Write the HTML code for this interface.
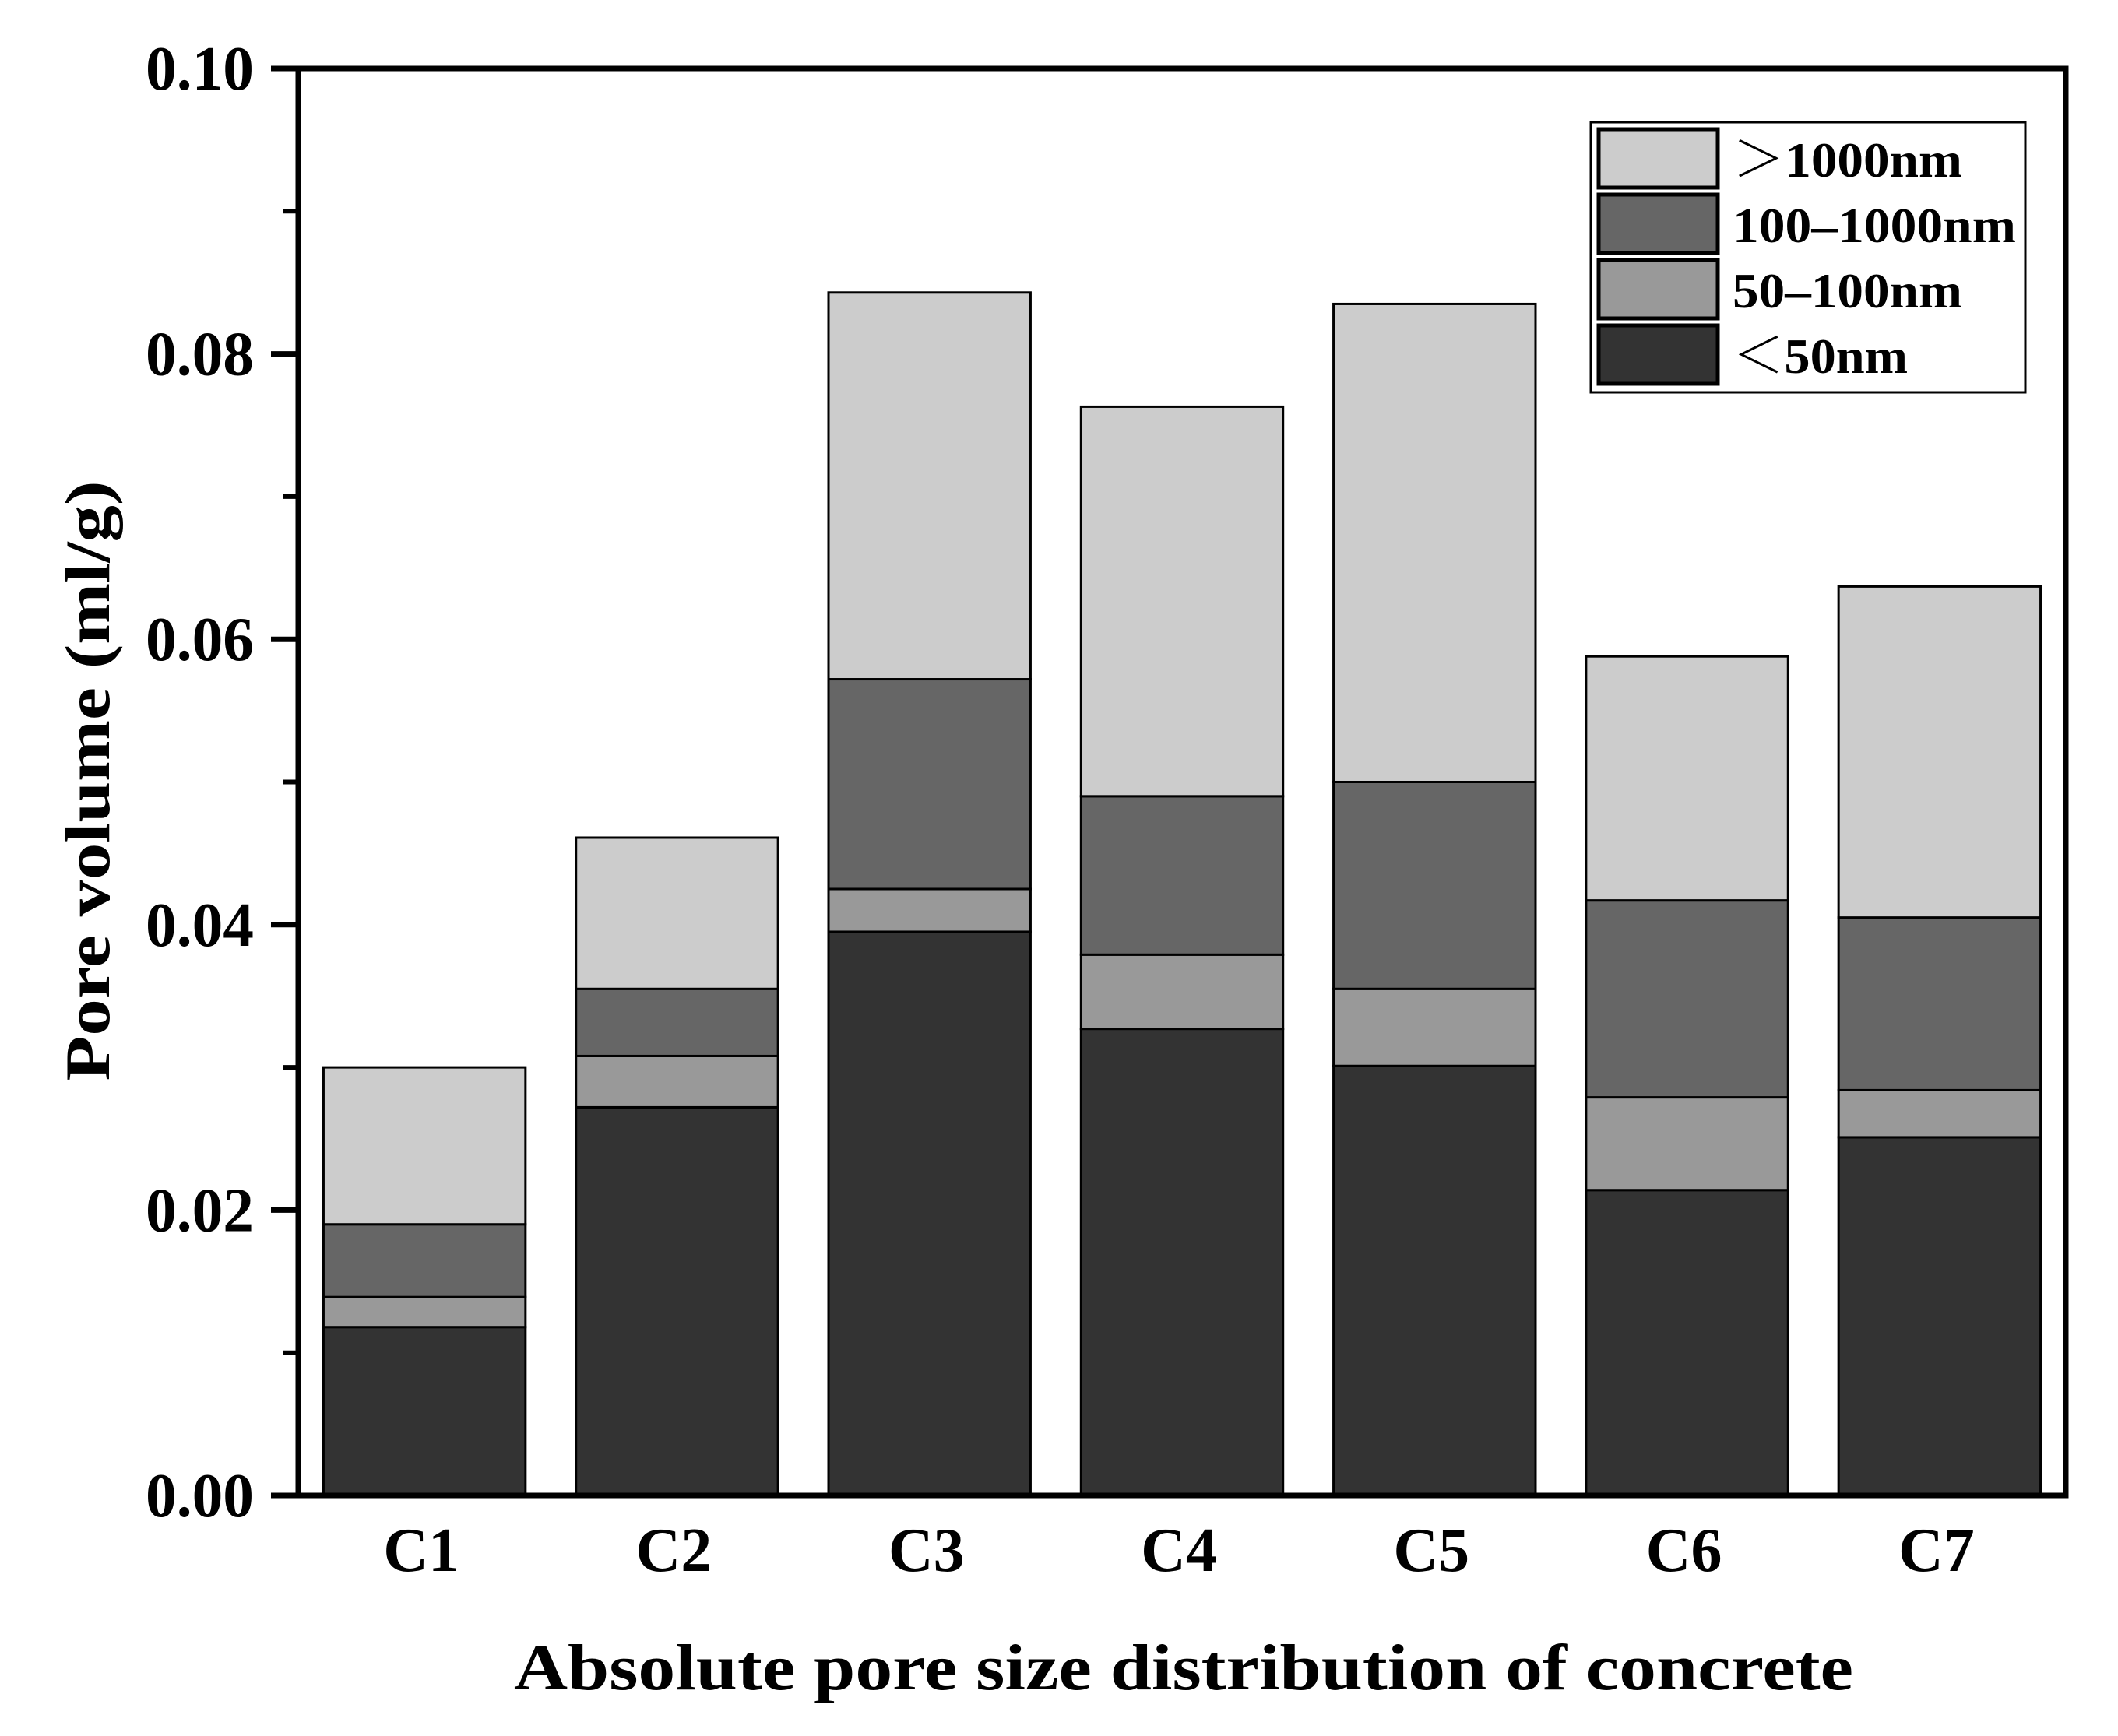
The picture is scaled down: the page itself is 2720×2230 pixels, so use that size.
<!DOCTYPE html>
<html><head><meta charset="utf-8"><style>
html,body{margin:0;padding:0;background:#fff;}
svg{display:block;font-family:"Liberation Serif",serif;font-weight:bold;}
</style></head><body>
<svg id="chart" width="2720" height="2230" viewBox="0 0 2720 2230" xmlns="http://www.w3.org/2000/svg">
<g id="bars"></g>
<g id="axes"></g>
<text x="1520" y="2170" font-size="84" text-anchor="middle" textLength="1720" lengthAdjust="spacingAndGlyphs">Absolute pore size distribution of concrete</text>
<text transform="translate(140,1003) rotate(-90)" font-size="82" text-anchor="middle" textLength="771" lengthAdjust="spacingAndGlyphs">Pore volume (ml/g)</text>
<g id="legend">
<rect x="2043" y="157" width="558" height="347" fill="#fff" stroke="#000" stroke-width="3"/>
</g>
</svg>
<script>
const categories = ["C1","C2","C3","C4","C5","C6","C7"];
const seriesNames = ["<50nm","50–100nm","100–1000nm",">1000nm"];
const lt50 = [0.0118,0.0272,0.0395,0.0327,0.0301,0.0214,0.0251];
const s50to100 = [0.0021,0.0036,0.0030,0.0052,0.0054,0.0065,0.0033];
const s100to1000 = [0.0051,0.0047,0.0147,0.0111,0.0145,0.0138,0.0121];
const gt1000 = [0.0110,0.0106,0.0271,0.0273,0.0335,0.0171,0.0232];
const yTicks = [0,0.02,0.04,0.06,0.08,0.10];
const yTickLabels = ["0.00","0.02","0.04","0.06","0.08","0.10"];
const yMinorTicks = [0.01,0.03,0.05,0.07,0.09];

const NS="http://www.w3.org/2000/svg";
const L=383,R=2653,T=88,B=1921;
const yMax=0.10;
function y(v){return B-(v/yMax)*(B-T);}
const band=(R-L)/categories.length;
function xBand(i){return L+band*i;}
const barW=band*0.8;
const colors=["#333333","#999999","#666666","#cccccc"];
const series=[lt50,s50to100,s100to1000,gt1000];
const segNames=["lt50","50-100","100-1000","gt1000"];
function mk(tag,attrs,parent){const e=document.createElementNS(NS,tag);for(const k in attrs)e.setAttribute(k,attrs[k]);parent.appendChild(e);return e;}

const gb=document.getElementById('bars');
categories.forEach((c,i)=>{
  let base=0;
  const x0=xBand(i)+band*0.1;
  series.forEach((s,j)=>{
    const top=base+s[i];
    const r=mk('rect',{x:x0,y:y(top),width:barW,height:y(base)-y(top),fill:colors[j],stroke:'#000','stroke-width':3},gb);
    
    
    base=top;
  });
  const t=mk('text',{x:xBand(i)+band/2-4,y:2018,'font-size':80,'text-anchor':'middle'},document.getElementById('axes'));
  t.textContent=c;
  
  
});

const ga=document.getElementById('axes');
const frame=mk('rect',{x:L,y:T,width:R-L,height:B-T,fill:'none',stroke:'#000','stroke-width':7},ga);


yTicks.forEach((v,k)=>{
  const ln=mk('line',{x1:L-35,x2:L,y1:y(v),y2:y(v),stroke:'#000','stroke-width':7},ga);
  
  
  const t=mk('text',{x:326,y:y(v)+27,'font-size':80,'text-anchor':'end',textLength:139,lengthAdjust:'spacingAndGlyphs'},ga);
  t.textContent=yTickLabels[k];
  
  
});
yMinorTicks.forEach(v=>{
  const ln=mk('line',{x1:L-20,x2:L,y1:y(v),y2:y(v),stroke:'#000','stroke-width':6},ga);
  
  
});

const gl=document.getElementById('legend');
const legOrder=[3,2,1,0];
const legLabels=["＞1000nm","100–1000nm","50–100nm","＜50nm"];
const legLens=[295,364,295,225];
legOrder.forEach((sIdx,r)=>{
  const yy=166+r*84;
  const sw=mk('rect',{x:2053,y:yy,width:153,height:75,fill:colors[sIdx],stroke:'#000','stroke-width':5},gl);
  
  
  const t=mk('text',{x:2225,y:yy+61,'font-size':64,textLength:legLens[r],lengthAdjust:'spacingAndGlyphs','font-family':'"Liberation Serif","Noto Serif CJK SC",serif'},gl);
  t.textContent=legLabels[r];
  
  
});
</script>
</body></html>
